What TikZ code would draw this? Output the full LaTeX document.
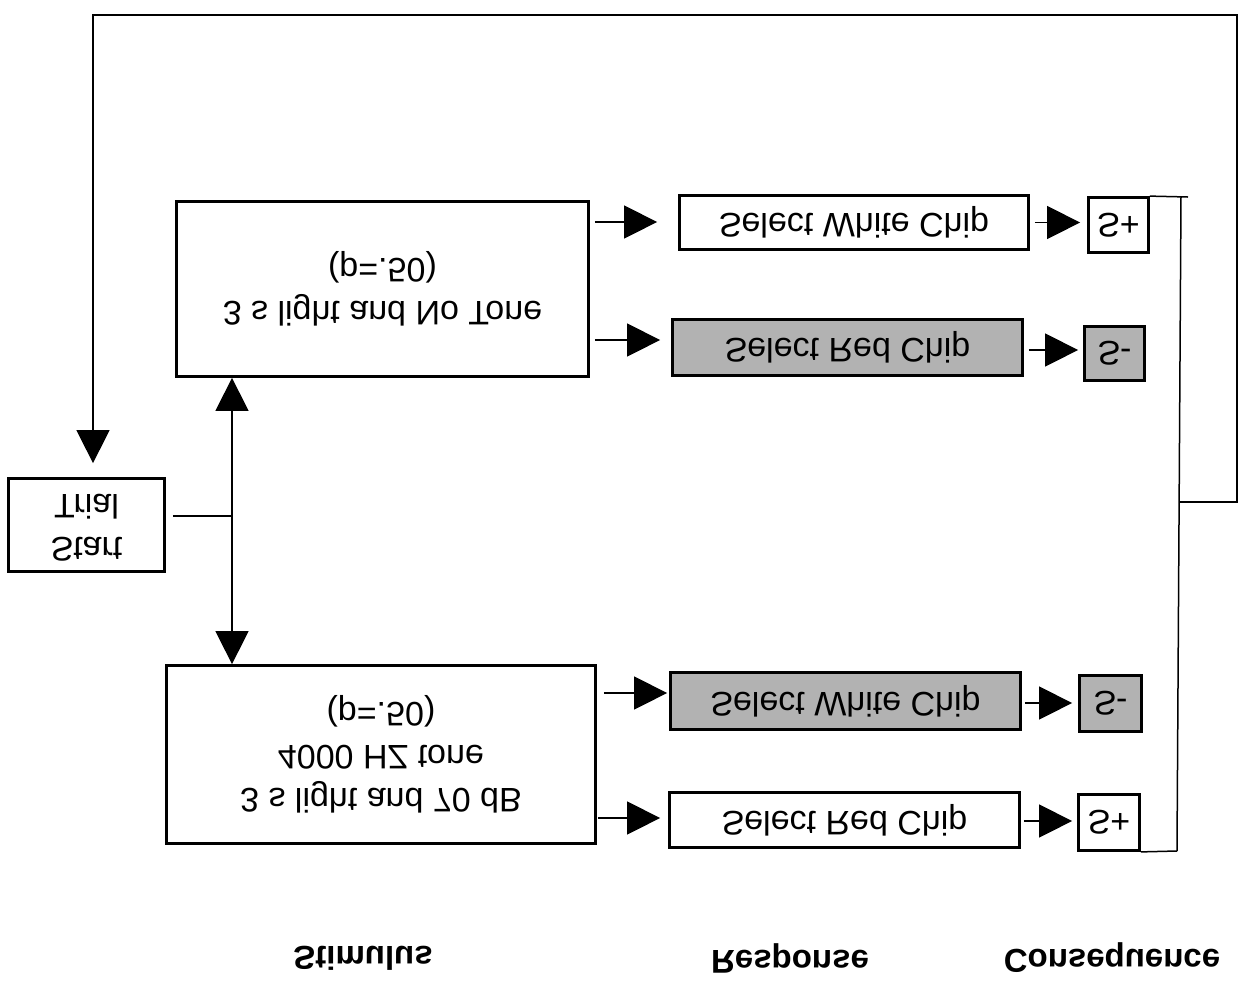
\documentclass[tikz,border=0pt]{standalone}
\usepackage{fontspec}
\setmainfont{Liberation Sans}
\usepackage{graphicx}
\usetikzlibrary{arrows.meta}
\newcommand{\vflip}[1]{\scalebox{1}[-1]{#1}}
\newcommand{\vlines}[1]{\vflip{\begin{tabular}{@{}c@{}}#1\end{tabular}}}
\begin{document}
\begin{tikzpicture}[x=0.5pt,y=-0.5pt,
  box/.style={draw,line width=1.4pt,inner sep=0pt,font=\fontsize{17}{21.5}\selectfont},
  shaded/.style={box,fill=black!30},
  conn/.style={line width=0.75pt},
  arr/.style={conn,-{Triangle[length=16.5pt,width=16.5pt]}},
  lab/.style={font=\fontsize{16.5}{20}\selectfont\bfseries}]
\useasboundingbox (0,0) rectangle (1250,987);
\fill[white] (0,0) rectangle (1250,987);

% stimulus boxes
\node[box,minimum width=206pt,minimum height=87.5pt] (S1) at (382.5,289) {\vlines{3 s light and No Tone\\(p=.50)}};
\node[box,minimum width=214.5pt,minimum height=89pt] (S2) at (381,754.5) {\vlines{3 s light and 70 dB\\4000 HZ tone\\(p=.50)}};
\node[box,minimum width=78pt,minimum height=46.5pt] (ST) at (86.5,525) {\vlines{Start\\Trial}};

% responses
\node[box,minimum width=174.5pt,minimum height=27pt] (R1) at (854,222.5) {\vflip{Select White Chip}};
\node[shaded,minimum width=175pt,minimum height=28pt] (R2) at (847.5,347.5) {\vflip{Select Red Chip}};
\node[shaded,minimum width=175pt,minimum height=28.5pt] (R3) at (845.5,701) {\vflip{Select White Chip}};
\node[box,minimum width=175pt,minimum height=27.5pt] (R4) at (844.5,820) {\vflip{Select Red Chip}};

% consequences
\node[box,minimum width=30pt,minimum height=27.5pt] (C1) at (1118.5,225) {\vflip{S+}};
\node[shaded,minimum width=30pt,minimum height=27pt] (C2) at (1114.5,353.5) {\vflip{S-}};
\node[shaded,minimum width=31pt,minimum height=28pt] (C3) at (1110.5,703.5) {\vflip{S-}};
\node[box,minimum width=30.5pt,minimum height=28pt] (C4) at (1109,822.5) {\vflip{S+}};

% column labels
\node[lab] (L1) at (363,958) {\vflip{Stimulus}};
\node[lab] (L2) at (790,958) {\vflip{Response}};
\node[lab] (L3) at (1112,958) {\vflip{Consequence}};

% start trial split
\coordinate (J) at (232,516);
\draw[conn] ([xshift=3.5pt]ST.east |- J) -- (J);
\draw[arr] (J) -- (J |- S1.south);
\draw[arr] (J) -- (J |- S2.north);

% stimulus -> response
\draw[arr] ([xshift=2.5pt]S1.east |- 0,222) -- ([xshift=-10.5pt]R1.west |- 0,222);
\draw[arr] ([xshift=2.5pt]S1.east |- 0,340) -- ([xshift=-5.5pt]R2.west |- 0,340);
\draw[arr] ([xshift=3.5pt]S2.east |- 0,693) -- ([xshift=-1pt]R3.west |- 0,693);
\draw[arr] ([xshift=0.5pt]S2.east |- 0,818) -- ([xshift=-4pt]R4.west |- 0,818);

% response -> consequence
\draw[arr] ([xshift=2.5pt]R1.east) -- ([xshift=-3.5pt]C1.west |- R1.east);
\draw[arr] ([xshift=2.5pt]R2.east |- 0,350) -- ([xshift=-2.5pt]C2.west |- 0,350);
\draw[arr] ([xshift=1.5pt]R3.east |- 0,703) -- ([xshift=-3pt]C3.west |- 0,703);
\draw[arr] ([xshift=1.5pt]R4.east |- 0,821) -- ([xshift=-2.5pt]C4.west |- 0,821);

% bracket and feedback loop
\coordinate (BT) at (1181,197);
\coordinate (BB) at (1177,851);
\coordinate (BM) at (1179,502);
\draw[conn] (C1.north east) -- (1188,197);
\draw[conn] (BT) -- (BB);
\draw[conn] (C4.south east) -- (BB);
\draw[arr] (BM) -- (1237,502) -- (1237,15) -- (93,15) -- ([yshift=7pt]ST.north -| 93,0);
\end{tikzpicture}
\end{document}
